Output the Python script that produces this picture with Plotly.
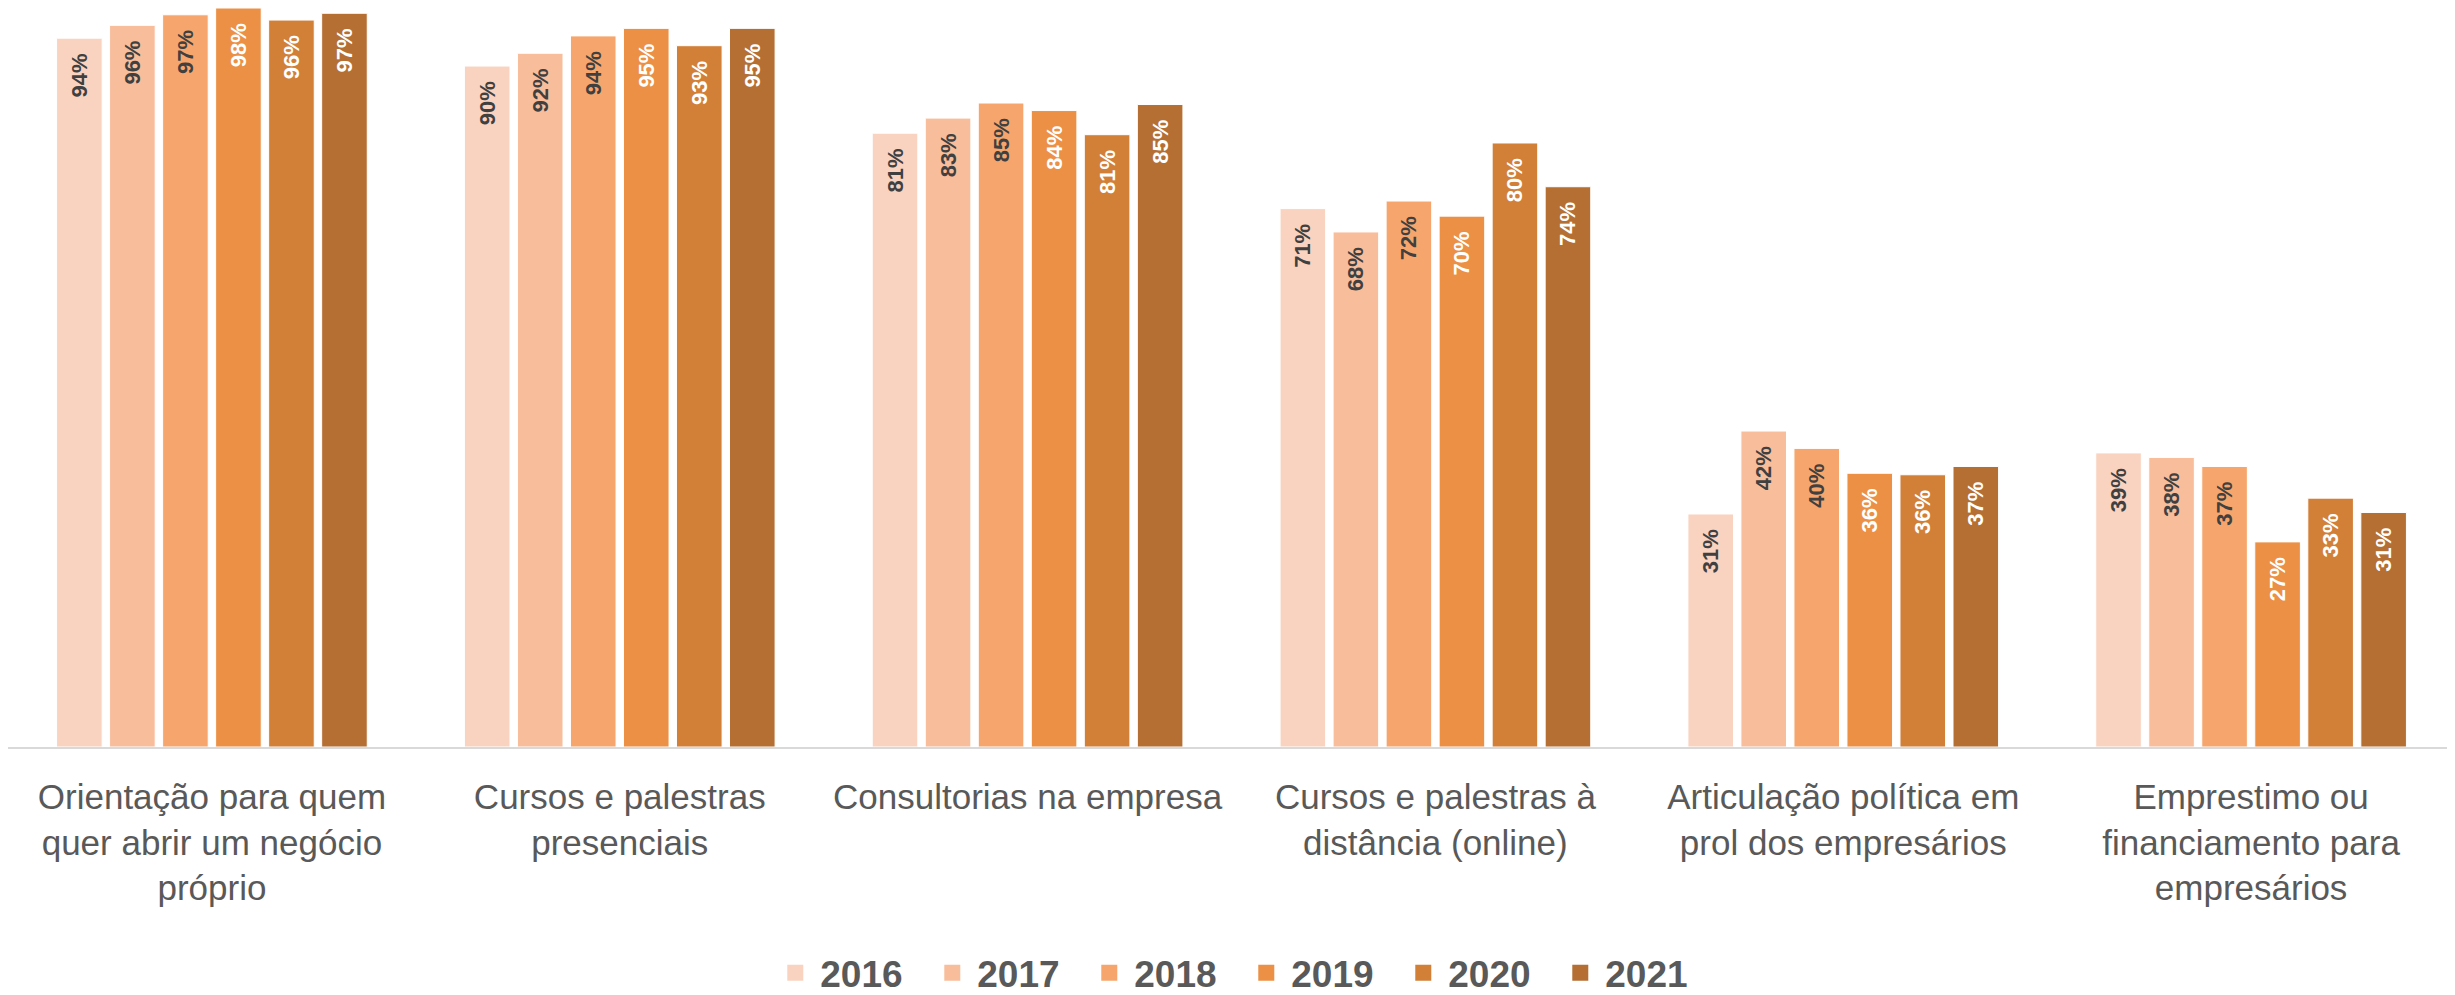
import plotly.graph_objects as go

categories = [
    "Orientação para quem<br>quer abrir um negócio<br>próprio",
    "Cursos e palestras<br>presenciais",
    "Consultorias na empresa",
    "Cursos e palestras à<br>distância (online)",
    "Articulação política em<br>prol dos empresários",
    "Emprestimo ou<br>financiamento para<br>empresários",
]
years = ["2016", "2017", "2018", "2019", "2020", "2021"]

v2016 = [0.940, 0.903, 0.814, 0.714, 0.309, 0.390]
v2017 = [0.957, 0.920, 0.834, 0.683, 0.419, 0.384]
v2018 = [0.971, 0.943, 0.854, 0.724, 0.396, 0.372]
v2019 = [0.980, 0.953, 0.844, 0.704, 0.363, 0.272]
v2020 = [0.964, 0.930, 0.812, 0.801, 0.361, 0.330]
v2021 = [0.973, 0.953, 0.852, 0.743, 0.372, 0.311]
series = [v2016, v2017, v2018, v2019, v2020, v2021]

colors = ["#F9D3C0", "#F8BD9B", "#F6A66C", "#EB9044", "#D27F38", "#B56F33"]
label_colors = ["#404040", "#404040", "#404040", "#FFFFFF", "#FFFFFF", "#FFFFFF"]

FONT = "Liberation Sans, Arial, sans-serif"

fig = go.Figure()
for yr, vals, col, lc in zip(years, series, colors, label_colors):
    fig.add_trace(go.Bar(
        name=yr,
        x=categories,
        y=vals,
        marker=dict(color=col, line=dict(color="#FFFFFF", width=1)),
        texttemplate="%{y:.0%}\u00a0\u00a0",
        textposition="inside",
        insidetextanchor="end",
        textangle=-90,
        textfont=dict(family=FONT, size=22, color=lc, weight="bold"),
        constraintext="none",
        hoverinfo="skip",
        showlegend=False,
    ))

# legend entries (square swatches)
for yr, col in zip(years, colors):
    fig.add_trace(go.Scatter(
        name=yr,
        x=[None],
        y=[None],
        mode="markers",
        marker=dict(symbol="square", size=22, color=col),
        hoverinfo="skip",
        showlegend=True,
    ))

fig.update_layout(
    width=2447,
    height=987,
    barmode="group",
    bargap=0.22,
    bargroupgap=0.14,
    plot_bgcolor="#FFFFFF",
    paper_bgcolor="#FFFFFF",
    margin=dict(l=0, r=0, t=0, b=248, autoexpand=False),
    font=dict(family=FONT, color="#595959"),
    showlegend=True,
    legend=dict(
        orientation="h",
        x=0.504,
        xanchor="center",
        y=-0.306,
        yanchor="middle",
        font=dict(family=FONT, size=37, color="#595959", weight="bold"),
        itemwidth=40,
        entrywidth=102,
        entrywidthmode="pixels",
        traceorder="normal",
    ),
    xaxis=dict(
        showline=True,
        linecolor="#D9D9D9",
        linewidth=2,
        ticks="",
        tickfont=dict(family=FONT, size=35, color="#595959"),
        ticklabelstandoff=18,
        showgrid=False,
    ),
    yaxis=dict(
        range=[0, 0.98],
        visible=False,
        showgrid=False,
        zeroline=False,
    ),
)

fig.write_html("out.html")
